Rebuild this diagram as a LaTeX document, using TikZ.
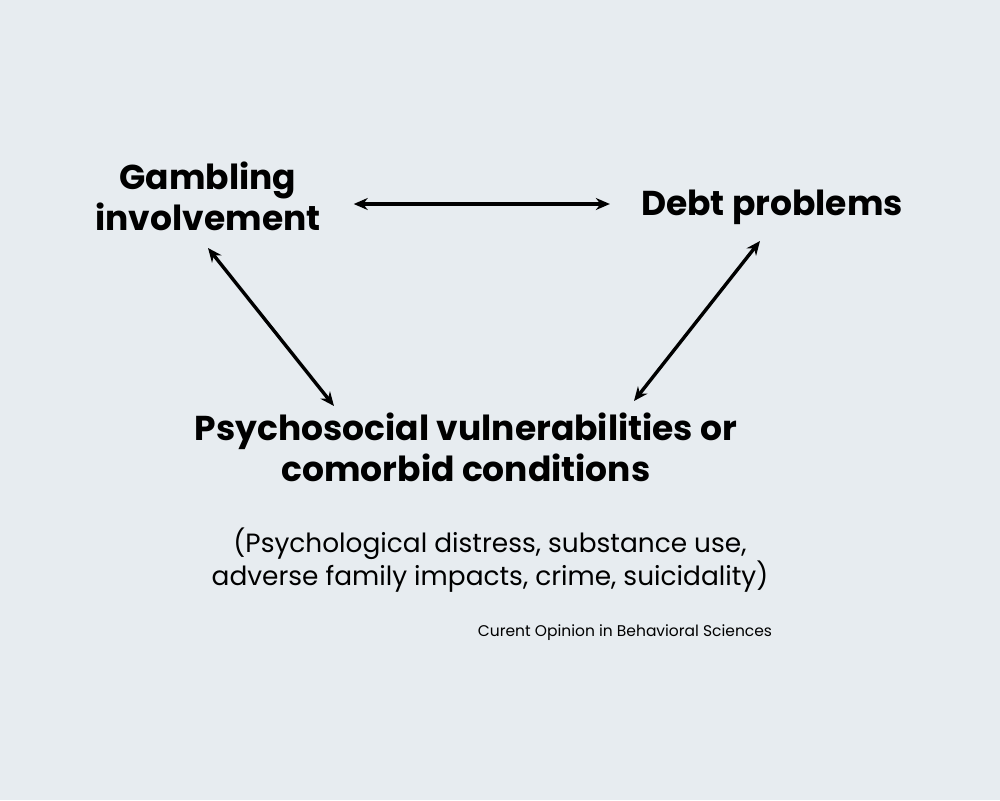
\documentclass[tikz,border=0pt]{standalone}
\usepackage{fontspec}
\setmainfont{Poppins}
\usetikzlibrary{arrows.meta}
\definecolor{bgcol}{HTML}{E7ECF0}

\begin{document}
\begin{tikzpicture}[x=1pt,y=-1pt,>={Stealth[length=14pt,width=12pt]},
  title/.style={inner sep=0pt,align=center,font=\bfseries\fontsize{34.5}{41}\selectfont},
  detail/.style={inner sep=0pt,align=center,font=\fontsize{26.4}{33}\selectfont},
  source/.style={inner sep=0pt,font=\fontsize{15.5}{18}\selectfont},
  link/.style={<->,line width=3.4pt}]
\fill[bgcol] (0,0) rectangle (1000,800);
\useasboundingbox (0,0) rectangle (1000,800);
% nodes
\node[title] (gamb) at (208,196) {Gambling\\involvement};
\node[title] (debt) at (772,207) {Debt problems};
\node[title] (psy) at (466,447) {Psychosocial vulnerabilities or\\comorbid conditions};
\node[detail] (note) at (490,560) {(Psychological distress, substance use,\\adverse family impacts, crime, suicidality)};
\node[source] (src) at (625,633) {Curent Opinion in Behavioral Sciences};
% arrow ends
\coordinate (gambdn) at (208,248);
\coordinate (psyl) at (334,406);
\coordinate (debtdn) at (760,241);
\coordinate (psyr) at (634,401);
% links
\draw[link,shorten <=33pt,shorten >=31pt] (gamb.east |- 0,204) -- (debt.west |- 0,204);
\draw[link] (gambdn) -- (psyl);
\draw[link] (debtdn) -- (psyr);
\end{tikzpicture}
\end{document}
